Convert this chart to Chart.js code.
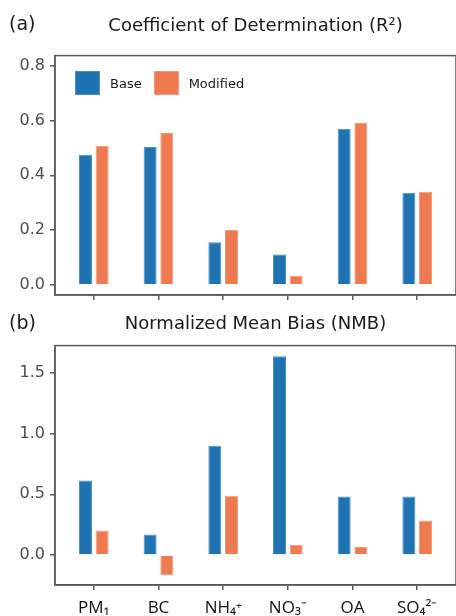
<!DOCTYPE html>
<html>
<head>
<meta charset="utf-8">
<script src="https://cdn.jsdelivr.net/npm/chart.js@4"></script>
<style>
    html, body { margin: 0; padding: 0; background: #fff; }
    #page { position: relative; width: 456px; height: 616px; overflow: hidden; }
    .panel { position: absolute; left: 0; width: 470px; }
    .letter { position: absolute; left: 9px; font: 19px "DejaVu Sans", sans-serif; color: #1a1a1a; }
    #legend { position: absolute; left: 75px; top: 71px; display: flex; align-items: center;
              font: 13px "DejaVu Sans", sans-serif; color: #1a1a1a; }
    #legend .box { width: 25px; height: 24px; margin-right: 10px; box-sizing: border-box; }
    #legend .item { display: flex; align-items: center; margin-right: 12px; }
</style>
</head>
<body>
<div id="page">
    <div class="panel" style="top:0;height:300px"><canvas id="r2Chart" width="470" height="300"></canvas></div>
    <div class="panel" style="top:300px;height:330px"><canvas id="nmbChart" width="470" height="330"></canvas></div>
    <div class="letter" style="top:12px">(a)</div>
    <div class="letter" style="top:311px">(b)</div>
    <div id="legend"></div>
</div>
<script>
// Datos
const species = ['PM\u2081', 'BC', 'NH\u2084\u207A', 'NO\u2083\u207B', 'OA', 'SO\u2084\u00B2\u207B'];
const seriesNames = ['Base', 'Modified'];
const seriesColors = ['#1f73b3', '#ef7a4f'];
const seriesBorders = ['#4b8fc4', '#f59a78'];

const r2Base = [0.475, 0.503, 0.156, 0.111, 0.570, 0.336];
const r2Modified = [0.508, 0.554, 0.200, 0.033, 0.593, 0.340];
const r2Ticks = [0.0, 0.2, 0.4, 0.6, 0.8];

const nmbBase = [0.614, 0.168, 0.900, 1.638, 0.482, 0.482];
const nmbModified = [0.201, -0.165, 0.487, 0.083, 0.066, 0.283];
const nmbTicks = [0.0, 0.5, 1.0, 1.5];

// Marco del panel (borde alrededor del área de la gráfica)
const panelBorder = {
    id: 'panelBorder',
    afterDraw(chart) {
        const { ctx, chartArea } = chart;
        ctx.save();
        ctx.strokeStyle = '#5a5a5a';
        ctx.lineWidth = 1.5;
        ctx.strokeRect(chartArea.left, chartArea.top, chartArea.right - chartArea.left, chartArea.bottom - chartArea.top);
        ctx.restore();
    }
};

function toPoints(values) {
    return values.map((v, i) => ({ x: i, y: v }));
}

function makeDatasets(base, modified) {
    return [base, modified].map((values, k) => ({
        label: seriesNames[k],
        data: toPoints(values),
        backgroundColor: seriesColors[k],
        borderColor: seriesBorders[k],
        borderWidth: 1,
        categoryPercentage: 0.515,
        barPercentage: 0.78
    }));
}

function renderPanel(canvasId, title, base, modified, yMin, yMax, yTicks, xAxisHeight, titlePadding) {
    const ctx = document.getElementById(canvasId);
    const showLabels = xAxisHeight > 5;
    return new Chart(ctx, {
        type: 'bar',
        data: { datasets: makeDatasets(base, modified) },
        options: {
            responsive: false,
            animation: false,
            layout: { padding: { left: 0, right: 14, top: 0, bottom: 0 } },
            plugins: {
                legend: { display: false },
                tooltip: { enabled: false },
                title: {
                    display: true,
                    text: title,
                    fullSize: false,
                    color: '#1a1a1a',
                    font: { family: '"DejaVu Sans", sans-serif', size: 18, weight: 'normal' },
                    padding: titlePadding
                }
            },
            scales: {
                x: {
                    type: 'linear',
                    offset: false,
                    min: -0.6,
                    max: species.length - 0.4,
                    afterBuildTicks: scale => {
                        scale.ticks = species.map((s, i) => ({ value: i }));
                    },
                    afterFit: scale => {
                        scale.height = xAxisHeight;
                        scale.paddingLeft = 0;
                        scale.paddingRight = 0;
                    },
                    ticks: {
                        display: showLabels,
                        color: '#111',
                        font: { family: '"Open Sans", sans-serif', size: 17 },
                        padding: 8,
                        callback: v => species[v]
                    },
                    grid: { offset: false, drawOnChartArea: false, drawTicks: true, tickLength: 5, color: '#5a5a5a', lineWidth: 1.5 },
                    border: { display: true, color: '#5a5a5a', width: 1.5 }
                },
                y: {
                    min: yMin,
                    max: yMax,
                    afterBuildTicks: scale => {
                        scale.ticks = yTicks.map(v => ({ value: v }));
                    },
                    afterFit: scale => {
                        scale.width = 55;
                        scale.paddingTop = 0;
                        scale.paddingBottom = 0;
                    },
                    ticks: {
                        color: '#4d4d4d',
                        font: { family: '"DejaVu Sans", sans-serif', size: 16 },
                        padding: 5,
                        callback: v => v.toFixed(1)
                    },
                    grid: { drawOnChartArea: false, drawTicks: true, tickLength: 5, color: '#5a5a5a', lineWidth: 1.5 },
                    border: { display: true, color: '#5a5a5a', width: 1.5 }
                }
            }
        },
        plugins: [panelBorder]
    });
}

// Leyenda (dentro del panel a)
function renderLegend() {
    const legend = document.getElementById('legend');
    legend.innerHTML = seriesNames.map((name, k) => `
        <div class="item">
            <div class="box" style="background:${seriesColors[k]};border:1px solid ${seriesBorders[k]}"></div>
            <span>${name}</span>
        </div>
    `).join('');
}

renderPanel('r2Chart', 'Coefficient of Determination (R\u00B2)', r2Base, r2Modified,
    -0.037, 0.837, r2Ticks, 5, { top: 16, bottom: 18 });
renderPanel('nmbChart', 'Normalized Mean Bias (NMB)', nmbBase, nmbModified,
    -0.248, 1.726, nmbTicks, 45, { top: 14, bottom: 10 });
renderLegend();
</script>
</body>
</html>
